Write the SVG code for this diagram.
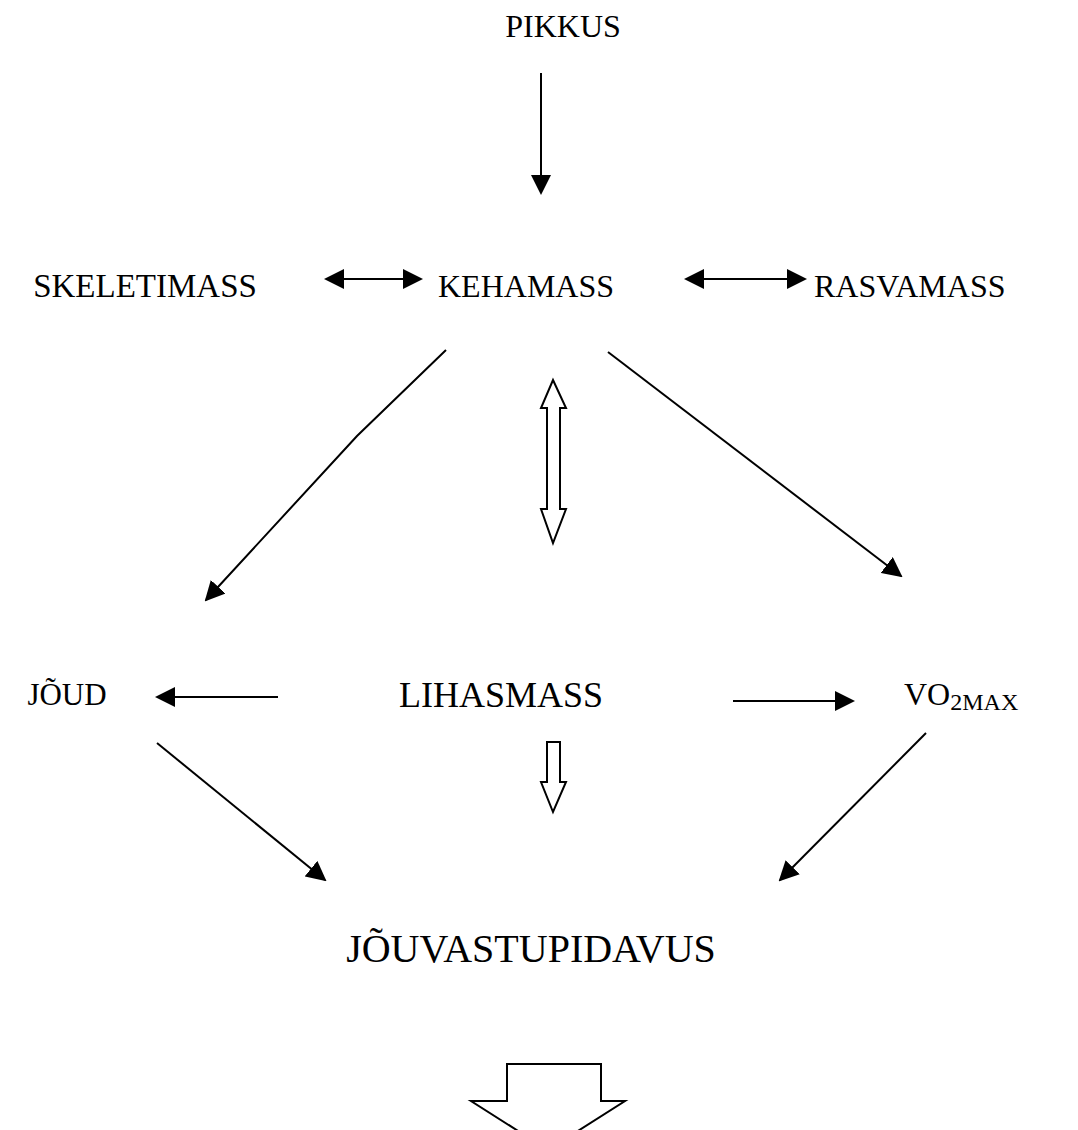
<svg xmlns="http://www.w3.org/2000/svg" width="1078" height="1130" viewBox="0 0 1078 1130">
  <style>
    .lbl { font-family: "Liberation Serif", "Times New Roman", serif; fill: #000; }
    .sm { font-size: 32px; }
    .lg { font-size: 36px; }
    .xl { font-size: 40px; }
    .ln { fill: none; stroke: #000; stroke-width: 2; }
    .hollow { fill: #fff; stroke: #000; stroke-width: 2; stroke-linejoin: miter; }
  </style>
  <defs>
    <marker id="head" viewBox="0 0 10 10" refX="9" refY="5" markerWidth="10" markerHeight="10" markerUnits="strokeWidth" orient="auto-start-reverse">
      <path d="M0,0 L10,5 L0,10 Z" fill="#000"/>
    </marker>
  </defs>
  <rect width="1078" height="1130" fill="#fff"/>

  <g id="pikkus"><text class="lbl sm" x="563" y="37" text-anchor="middle">PIKKUS</text></g>
  <g id="skeletimass"><text class="lbl" font-size="33" x="145" y="297" text-anchor="middle">SKELETIMASS</text></g>
  <g id="kehamass"><text class="lbl sm" x="438" y="297">KEHAMASS</text></g>
  <g id="rasvamass"><text class="lbl sm" x="814" y="297">RASVAMASS</text></g>
  <g id="joud"><text class="lbl" font-size="31" x="67" y="705" text-anchor="middle">JÕUD</text></g>
  <g id="lihasmass"><text class="lbl lg" x="501" y="707" text-anchor="middle">LIHASMASS</text></g>
  <g id="vo2max"><text class="lbl sm" x="904" y="705">VO<tspan font-size="24" dy="5">2MAX</tspan></text></g>
  <g id="jouvastupidavus"><text class="lbl xl" x="531" y="962" text-anchor="middle">JÕUVASTUPIDAVUS</text></g>

  <g id="connectors">
    <!-- PIKKUS to KEHAMASS -->
    <line class="ln" x1="541" y1="73" x2="541" y2="193" marker-end="url(#head)"/>
    <!-- two-way links in the top row -->
    <line class="ln" x1="326" y1="279" x2="421" y2="279" marker-start="url(#head)" marker-end="url(#head)"/>
    <line class="ln" x1="686" y1="279" x2="805" y2="279" marker-start="url(#head)" marker-end="url(#head)"/>
    <!-- KEHAMASS down to the side nodes -->
    <polyline class="ln" points="446,350 357,436 206,600" marker-end="url(#head)"/>
    <line class="ln" x1="608" y1="352" x2="901" y2="576" marker-end="url(#head)"/>
    <!-- LIHASMASS out to the sides -->
    <line class="ln" x1="278" y1="697" x2="157" y2="697" marker-end="url(#head)"/>
    <line class="ln" x1="733" y1="701" x2="853" y2="701" marker-end="url(#head)"/>
    <!-- side nodes into JÕUVASTUPIDAVUS -->
    <line class="ln" x1="157" y1="743" x2="325" y2="880" marker-end="url(#head)"/>
    <line class="ln" x1="926" y1="733" x2="780" y2="880" marker-end="url(#head)"/>
    <!-- hollow block arrows -->
    <path class="hollow" d="M553,380 L566,408 L560,408 L560,509 L566,509 L553,543 L541,509 L547,509 L547,408 L541,408 Z"/>
    <path class="hollow" d="M547,742 L560,742 L560,782 L566,782 L553,812 L541,782 L547,782 Z"/>
    <path class="hollow" d="M507,1064 L601,1064 L601,1101 L625,1101 L548,1150 L471,1101 L507,1101 Z"/>
  </g>
</svg>
